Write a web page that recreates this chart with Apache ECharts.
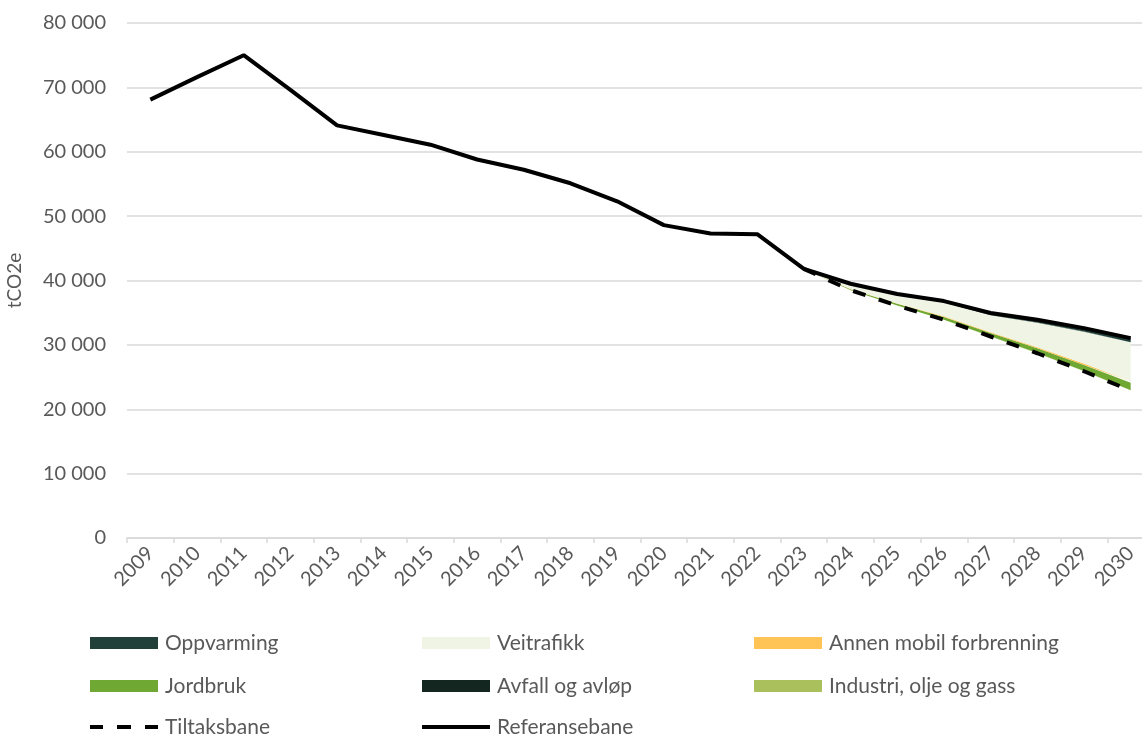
<!DOCTYPE html>
<html>
<head>
<meta charset="utf-8">
<title>Utslipp</title>
<script src="https://cdn.jsdelivr.net/npm/echarts@6/dist/echarts.min.js"></script>
<style>
  html, body { margin: 0; padding: 0; background: #fff; }
  #main { width: 1142px; height: 737px; }
</style>
</head>
<body>
<div id="main"></div>
<script>
var years = ['2009','2010','2011','2012','2013','2014','2015','2016','2017','2018','2019',
             '2020','2021','2022','2023','2024','2025','2026','2027','2028','2029','2030'];

// referansebane og tiltaksbane (tCO2e)
var referansebane = [68100, 71600, 75000, 69600, 64100, 62600, 61100, 58800, 57200, 55100, 52300,
                     48600, 47300, 47200, 41800, 39500, 37900, 36800, 34950, 33900, 32600, 31050];
var tiltaksbane = ['-','-','-','-','-','-','-','-','-','-','-',
                   '-','-','-', 41800, 38500, 36100, 33900, 31300, 28700, 25900, 22900];

// reduksjon per sektor, 2023-2030
var industri   = ['-','-','-','-','-','-','-','-','-','-','-','-','-','-', 0,   5,   10,   20,   25,   30,   40,   50];
var jordbruk   = ['-','-','-','-','-','-','-','-','-','-','-','-','-','-', 0, 130,  260,  420,  510,  730,  950, 1150];
var annenMobil = ['-','-','-','-','-','-','-','-','-','-','-','-','-','-', 0,  30,   55,   90,  110,  160,  205,  250];
var veitrafikk = ['-','-','-','-','-','-','-','-','-','-','-','-','-','-', 0, 700, 1325, 2205, 2665, 3830, 4935, 6000];
var avfall     = ['-','-','-','-','-','-','-','-','-','-','-','-','-','-', 0,   5,   10,   15,   20,   30,   40,   50];
var oppvarming = ['-','-','-','-','-','-','-','-','-','-','-','-','-','-', 0,  80,  140,  250,  320,  420,  530,  650];

var yTicks = [0, 10000, 20000, 30000, 40000, 50000, 60000, 70000, 80000];

var textGrey = '#595959';
var font = 'Lato';

function areaSerie(name, data, color) {
  return {
    name: name,
    type: 'line',
    stack: 'total',
    data: data,
    symbol: 'none',
    lineStyle: { width: 0 },
    itemStyle: { color: color },
    areaStyle: { color: color, opacity: 1 }
  };
}

// en legend per element, for å få faste kolonner
function legendItem(left, top, name, icon, h) {
  return {
    left: left,
    top: top,
    padding: 0,
    itemWidth: 68,
    itemHeight: h,
    selectedMode: false,
    textStyle: { color: textGrey, fontSize: 21, fontFamily: font, lineHeight: 22, padding: [0, 0, 0, 2] },
    data: [{ name: name, icon: icon }]
  };
}

var rectIcon = 'rect';
var solidIcon = 'path://M0,0h68v4h-68z';
var dashIcon = 'path://M0,0h13v4h-13z M27,0h14v4h-14z M55,0h13v4h-13z';

var myChart = echarts.init(document.getElementById('main'));

var option = {
  backgroundColor: '#fff',
  animation: false,
  grid: { left: 127, top: 23, width: 1027, height: 515, outerBoundsMode: 'none' },
  legend: [
    legendItem(90,  632, 'Oppvarming', rectIcon, 12),
    legendItem(422, 632, 'Veitrafikk', rectIcon, 12),
    legendItem(754, 632, 'Annen mobil forbrenning', rectIcon, 12),
    legendItem(90,  675, 'Jordbruk', rectIcon, 12),
    legendItem(422, 675, 'Avfall og avløp', rectIcon, 12),
    legendItem(754, 675, 'Industri, olje og gass', rectIcon, 12),
    legendItem(90,  716, 'Tiltaksbane', dashIcon, 4),
    legendItem(422, 716, 'Referansebane', solidIcon, 4)
  ],
  xAxis: {
    type: 'category',
    data: years,
    boundaryGap: true,
    axisLine: { lineStyle: { color: '#d9d9d9', width: 1.5 } },
    axisTick: { show: true, length: 5, lineStyle: { color: '#d9d9d9', width: 1.5 } },
    axisLabel: { rotate: 45, color: textGrey, fontSize: 20, fontFamily: font, margin: 12, interval: 0 }
  },
  yAxis: {
    type: 'value',
    min: yTicks[0],
    max: yTicks[yTicks.length - 1],
    interval: 10000,
    name: 'tCO2e',
    nameLocation: 'middle',
    nameGap: 103,
    nameTextStyle: { color: textGrey, fontSize: 19, fontFamily: font },
    axisLine: { show: false },
    axisTick: { show: false },
    splitLine: { lineStyle: { color: '#d9d9d9', width: 1.5 } },
    axisLabel: {
      color: textGrey, fontSize: 20, fontFamily: font, margin: 21,
      formatter: function (v) { return String(v).replace(/\B(?=(\d{3})+(?!\d))/g, ' '); }
    }
  },
  series: [
    {
      name: 'base',
      type: 'line',
      stack: 'total',
      data: tiltaksbane,
      symbol: 'none',
      silent: true,
      lineStyle: { width: 0, opacity: 0 }
    },
    areaSerie('Industri, olje og gass', industri, '#a9c05c'),
    areaSerie('Jordbruk', jordbruk, '#6fa832'),
    areaSerie('Annen mobil forbrenning', annenMobil, '#ffc455'),
    areaSerie('Veitrafikk', veitrafikk, '#eff4e4'),
    areaSerie('Avfall og avløp', avfall, '#13261f'),
    areaSerie('Oppvarming', oppvarming, '#21403a'),
    {
      name: 'Tiltaksbane',
      type: 'line',
      data: tiltaksbane,
      symbol: 'none',
      itemStyle: { color: '#000' },
      lineStyle: { color: '#000', width: 4, type: [13, 14] }
    },
    {
      name: 'Referansebane',
      type: 'line',
      data: referansebane,
      symbol: 'none',
      itemStyle: { color: '#000' },
      lineStyle: { color: '#000', width: 4 }
    }
  ]
};

myChart.setOption(option);
</script>
</body>
</html>
